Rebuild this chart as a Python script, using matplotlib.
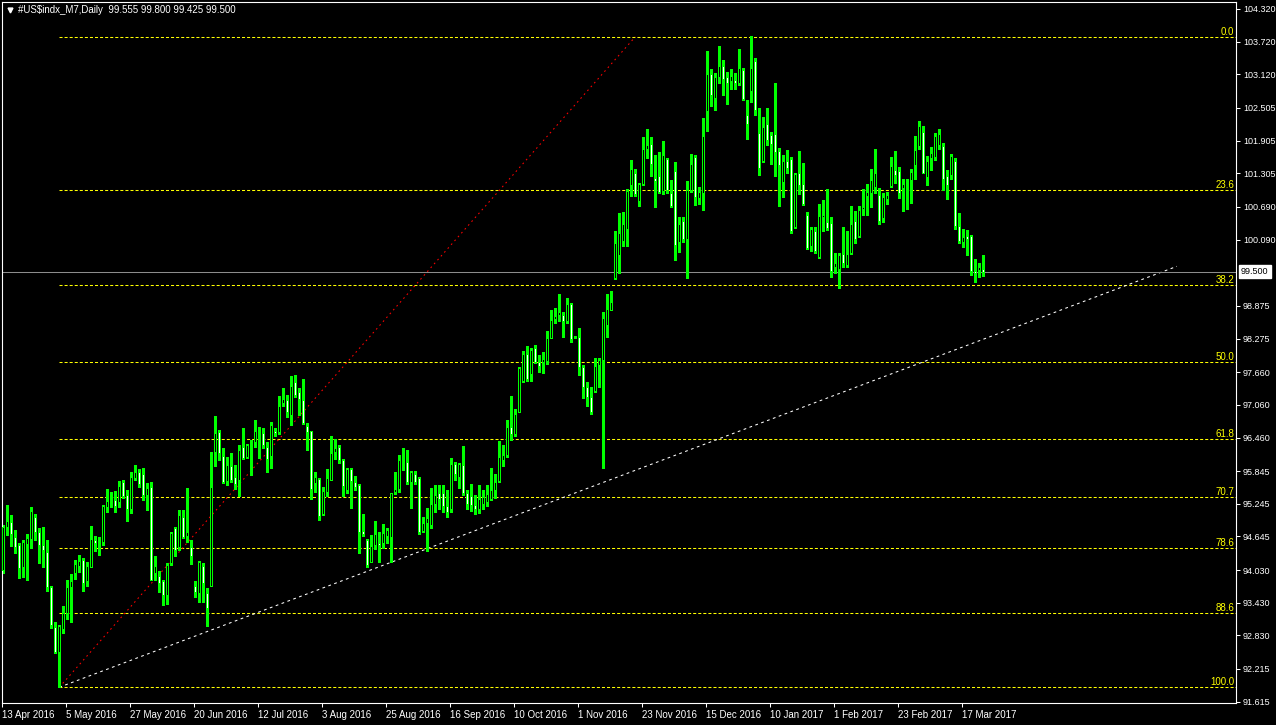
import numpy as np
import matplotlib.pyplot as plt
from matplotlib import transforms

plt.rcParams['font.family'] = ['Liberation Sans', 'DejaVu Sans']
plt.rcParams['lines.scale_dashes'] = False

# Daily candles of #US$indx_M7, 13 Apr 2016 onwards (one value per bar)
opens = [
    94.03, 94.81, 94.91, 94.64, 94.48, 94.09, 94.50, 94.59, 95.00, 94.72,
    94.48, 94.36, 93.71, 92.98, 92.52, 92.94, 93.24, 93.71, 93.97, 94.10,
    94.21, 93.82, 94.09, 94.58, 94.52, 94.54, 95.18, 95.30, 95.32, 95.28,
    95.65, 95.41, 95.14, 95.72, 95.82, 95.79, 95.41, 95.55, 93.98, 93.92,
    93.83, 93.57, 94.15, 94.80, 94.46, 95.00, 94.66, 94.46, 93.74, 93.60,
    94.10, 93.60, 93.74, 96.20, 96.57, 96.12, 95.67, 95.94, 95.73, 95.68,
    96.29, 96.11, 96.30, 96.37, 96.57, 96.54, 96.28, 96.13, 96.58, 96.57,
    97.09, 97.15, 96.87, 97.47, 97.29, 97.15, 96.67, 96.58, 95.62, 95.70,
    95.06, 95.47, 95.69, 96.20, 96.28, 96.05, 95.49, 95.88, 95.65, 95.59,
    94.75, 94.58, 94.17, 94.49, 94.53, 94.52, 94.66, 94.64, 95.47, 95.51,
    95.98, 96.01, 95.65, 95.80, 95.71, 94.75, 94.89, 94.86, 95.24, 95.45,
    95.44, 95.20, 95.15, 95.98, 95.74, 95.96, 95.45, 95.39, 95.22, 95.15,
    95.25, 95.28, 95.33, 95.49, 95.67, 96.05, 96.14, 96.65, 96.52, 96.92,
    97.49, 98.00, 97.62, 98.10, 97.85, 97.85, 97.87, 98.29, 98.63, 98.70,
    98.70, 98.59, 98.91, 98.30, 98.31, 97.76, 97.39, 97.20, 97.32, 97.79,
    97.89, 98.52, 98.79, 99.39, 99.80, 100.07, 100.28, 101.10, 101.32, 100.80,
    101.11, 101.75, 101.84, 101.22, 101.26, 100.99, 101.56, 100.94, 101.34, 100.05,
    100.43, 100.10, 101.00, 101.60, 100.85, 100.94, 102.44, 103.13, 102.69, 103.08,
    103.28, 103.07, 102.99, 103.02, 102.96, 103.20, 102.38, 102.82, 103.37, 102.04,
    101.54, 102.21, 102.01, 102.02, 101.72, 101.15, 101.53, 101.57, 100.33, 101.31,
    101.11, 100.54, 99.97, 100.25, 99.78, 100.51, 100.41, 100.39, 99.58, 99.55,
    99.83, 99.63, 99.84, 100.43, 100.15, 100.66, 100.89, 100.95, 101.06, 100.91,
    100.48, 100.83, 101.07, 101.37, 101.35, 101.04, 101.15, 101.18, 101.46, 101.80,
    102.06, 101.24, 101.59, 101.61, 101.83, 101.81, 101.26, 101.28, 101.53, 100.34,
    100.05, 100.16, 100.16, 99.51, 99.53, 99.555]

highs = [
    94.86, 95.22, 95.04, 94.76, 94.52, 94.58, 94.69, 95.19, 95.06, 94.80,
    94.81, 94.58, 93.73, 93.07, 93.02, 93.37, 93.85, 93.96, 94.21, 94.31,
    94.25, 94.17, 94.84, 94.65, 94.64, 95.22, 95.51, 95.47, 95.48, 95.66,
    95.68, 95.50, 95.82, 95.96, 95.88, 95.90, 95.62, 95.65, 94.28, 94.02,
    93.85, 94.15, 94.73, 94.81, 95.13, 95.13, 95.53, 94.58, 93.82, 94.20,
    94.15, 93.70, 96.20, 96.86, 96.60, 96.26, 96.11, 96.17, 95.96, 96.32,
    96.63, 96.35, 96.42, 96.79, 96.66, 96.63, 96.38, 96.75, 96.63, 97.22,
    97.36, 97.24, 97.59, 97.61, 97.36, 97.53, 96.73, 96.58, 95.82, 95.71,
    95.56, 95.88, 96.49, 96.43, 96.32, 96.06, 95.91, 95.91, 95.76, 95.61,
    95.06, 94.59, 94.67, 94.93, 94.73, 94.87, 94.80, 95.45, 95.82, 96.14,
    96.26, 96.24, 95.84, 95.84, 95.74, 95.01, 95.16, 95.53, 95.59, 95.59,
    95.59, 95.50, 96.08, 96.02, 96.00, 96.31, 95.50, 95.61, 95.40, 95.59,
    95.50, 95.59, 95.90, 95.80, 96.40, 96.32, 96.79, 97.22, 96.98, 97.76,
    98.05, 98.14, 98.10, 98.16, 97.97, 98.02, 98.42, 98.80, 98.83, 99.09,
    98.77, 99.01, 98.93, 98.33, 98.46, 97.79, 97.48, 97.39, 97.91, 97.91,
    98.77, 99.10, 99.15, 100.24, 100.57, 100.60, 101.01, 101.55, 101.38, 101.13,
    101.98, 102.12, 101.98, 101.64, 101.70, 101.90, 101.58, 101.18, 101.51, 100.50,
    100.51, 101.17, 101.66, 101.64, 101.06, 102.32, 103.55, 103.21, 103.14, 103.64,
    103.39, 103.17, 103.21, 103.15, 103.59, 103.23, 102.65, 103.83, 103.42, 102.50,
    102.33, 102.50, 102.07, 102.96, 101.77, 101.64, 101.73, 101.61, 101.32, 101.72,
    101.49, 100.60, 100.33, 100.33, 100.74, 100.82, 101.01, 100.50, 99.84, 99.84,
    100.33, 100.24, 100.71, 100.62, 100.70, 101.01, 101.11, 101.38, 101.75, 101.03,
    100.94, 100.97, 101.61, 101.72, 101.43, 101.21, 101.20, 101.38, 101.99, 102.27,
    102.17, 101.62, 101.78, 102.04, 102.12, 101.86, 101.37, 101.66, 101.58, 100.57,
    100.28, 100.27, 100.17, 99.73, 99.66, 99.80]

lows = [
    93.98, 94.67, 94.47, 94.35, 93.88, 93.91, 93.84, 94.43, 94.58, 94.15,
    94.09, 93.65, 92.96, 92.50, 91.88, 92.87, 93.14, 93.08, 93.86, 94.00,
    93.65, 93.73, 94.09, 94.37, 94.31, 94.49, 95.10, 95.19, 95.10, 95.19,
    95.35, 94.92, 95.07, 95.69, 95.56, 95.32, 95.13, 93.85, 93.85, 93.63,
    93.38, 93.41, 94.12, 94.28, 94.40, 94.61, 94.55, 94.14, 93.54, 93.45,
    93.45, 93.01, 93.73, 95.93, 96.05, 95.62, 95.59, 95.65, 95.51, 95.38,
    96.06, 96.08, 95.77, 96.28, 96.08, 96.26, 95.82, 95.91, 96.48, 96.52,
    97.03, 96.83, 96.69, 97.21, 96.87, 96.71, 96.24, 95.33, 95.47, 94.94,
    95.04, 95.38, 95.68, 96.07, 96.00, 95.38, 95.44, 95.17, 95.49, 94.35,
    94.65, 94.09, 94.17, 94.41, 94.18, 94.43, 94.53, 94.17, 95.43, 95.47,
    95.87, 95.61, 95.17, 95.60, 94.69, 94.72, 94.37, 94.80, 95.10, 95.15,
    95.10, 95.00, 95.10, 95.68, 95.53, 95.41, 95.15, 95.12, 95.05, 95.08,
    95.15, 95.20, 95.31, 95.36, 95.65, 95.93, 96.11, 96.42, 96.48, 96.92,
    97.47, 97.50, 97.50, 97.83, 97.67, 97.65, 97.81, 98.28, 98.56, 98.59,
    98.31, 98.56, 98.22, 98.29, 97.61, 97.18, 97.03, 96.90, 97.30, 97.38,
    95.90, 98.31, 98.79, 99.37, 99.47, 99.97, 99.97, 100.89, 100.89, 100.71,
    101.10, 101.58, 101.25, 100.68, 100.94, 100.92, 100.94, 100.68, 99.72, 99.87,
    100.04, 99.39, 100.97, 100.73, 100.74, 100.63, 102.08, 102.54, 102.47, 102.97,
    102.74, 102.58, 102.85, 102.85, 102.93, 102.65, 101.94, 102.62, 102.38, 101.28,
    101.52, 101.83, 101.48, 101.25, 100.70, 100.88, 101.31, 100.22, 100.31, 100.93,
    100.73, 99.91, 99.89, 99.85, 99.75, 100.24, 100.27, 99.40, 99.47, 99.20,
    99.59, 99.58, 99.83, 100.02, 100.13, 100.54, 100.54, 100.69, 100.94, 100.38,
    100.42, 100.74, 101.06, 101.13, 100.85, 100.62, 100.66, 100.77, 101.21, 101.76,
    101.31, 101.09, 101.37, 101.55, 101.76, 101.00, 100.84, 101.20, 100.28, 100.02,
    99.96, 99.81, 99.44, 99.32, 99.41, 99.425]

closes = [
    94.81, 94.93, 94.69, 94.45, 94.06, 94.54, 94.61, 95.11, 94.73, 94.48,
    94.39, 93.71, 93.03, 92.52, 93.01, 93.25, 93.71, 93.82, 94.14, 94.20,
    93.79, 94.10, 94.59, 94.52, 94.54, 95.20, 95.30, 95.28, 95.21, 95.57,
    95.38, 95.14, 95.74, 95.82, 95.60, 95.41, 95.54, 93.85, 94.10, 93.79,
    93.58, 94.12, 94.70, 94.40, 95.03, 94.64, 94.72, 94.28, 93.63, 94.17,
    93.80, 93.34, 95.55, 96.55, 96.17, 95.65, 95.95, 95.69, 95.60, 96.24,
    96.09, 96.32, 96.29, 96.58, 96.54, 96.32, 96.07, 96.69, 96.54, 97.04,
    97.16, 96.92, 97.41, 97.24, 97.16, 96.73, 96.57, 95.51, 95.73, 95.02,
    95.48, 95.71, 96.17, 96.26, 96.04, 95.58, 95.88, 95.67, 95.55, 94.73,
    94.69, 94.12, 94.47, 94.69, 94.49, 94.70, 94.76, 95.44, 95.52, 96.05,
    95.97, 95.65, 95.82, 95.65, 94.73, 94.89, 94.98, 95.24, 95.40, 95.33,
    95.20, 95.10, 95.98, 95.79, 95.98, 95.44, 95.25, 95.22, 95.15, 95.34,
    95.37, 95.42, 95.49, 95.65, 96.10, 96.14, 96.65, 96.52, 96.90, 97.73,
    97.99, 97.53, 98.07, 97.85, 97.78, 97.90, 98.28, 98.62, 98.68, 98.76,
    98.59, 98.90, 98.27, 98.31, 97.76, 97.39, 97.20, 96.92, 97.78, 97.89,
    98.65, 98.81, 98.95, 100.02, 100.22, 100.37, 100.99, 101.38, 100.92, 101.11,
    101.75, 101.83, 101.47, 101.17, 100.97, 101.64, 101.00, 100.71, 100.00, 100.37,
    100.10, 101.00, 101.48, 100.87, 100.96, 101.99, 103.12, 102.74, 103.07, 103.28,
    103.03, 102.97, 103.09, 102.96, 103.23, 102.66, 102.21, 103.23, 102.46, 101.40,
    102.15, 101.91, 101.84, 101.70, 101.45, 101.53, 101.40, 100.24, 101.29, 101.10,
    100.74, 99.93, 100.28, 99.89, 100.53, 100.54, 100.30, 99.52, 99.67, 99.81,
    99.67, 99.83, 100.37, 100.11, 100.63, 100.68, 100.96, 101.18, 101.32, 100.44,
    100.87, 100.91, 101.44, 101.28, 100.95, 101.11, 101.15, 101.33, 101.73, 102.17,
    101.32, 101.53, 101.67, 101.99, 102.03, 101.20, 101.09, 101.62, 100.34, 100.07,
    100.13, 100.11, 99.52, 99.47, 99.59, 99.50]

# x axis labels, one every 16 bars starting at bar 1
date_labels = ["13 Apr 2016", "5 May 2016", "27 May 2016", "20 Jun 2016",
               "12 Jul 2016", "3 Aug 2016", "25 Aug 2016", "16 Sep 2016",
               "10 Oct 2016", "1 Nov 2016", "23 Nov 2016", "15 Dec 2016",
               "10 Jan 2017", "1 Feb 2017", "23 Feb 2017", "17 Mar 2017"]
date_bars = [1 + 16 * k for k in range(len(date_labels))]

price_ticks = [104.320, 103.720, 103.120, 102.505, 101.905, 101.305, 100.690,
               100.090, 98.875, 98.275, 97.660, 97.060, 96.460, 95.845,
               95.245, 94.645, 94.030, 93.430, 92.830, 92.215, 91.615]

# Fibonacci retracement drawn from the May low to the December high
fib_levels = [0.0, 23.6, 38.2, 50.0, 61.8, 70.7, 78.6, 88.6, 100.0]
fib_low = 91.88
fib_high = 103.81
fib_bars = [15, 159]

# support trend line
trend_bars = [15, 294.4]
trend_prices = [91.88, 99.60]

last_price = 99.50
title = "#US$indx_M7,Daily  99.555 99.800 99.425 99.500"

o = np.array(opens)
h = np.array(highs)
l = np.array(lows)
c = np.array(closes)
bars = np.arange(1, len(c) + 1)

fig = plt.figure(figsize=(12.76, 7.25), dpi=100, facecolor='black')
ax = fig.add_axes([2 / 1276, 22 / 725, 1234 / 1276, 701 / 725], facecolor='black')
xmax = 309.175
ax.set_xlim(0.675, xmax)
ax.set_ylim(91.591, 104.448)

fs = 7
fs_price = 6.5

# fib levels
fib_prices = [fib_high - (fib_high - fib_low) * lv / 100 for lv in fib_levels]
ax.hlines(fib_prices, fib_bars[0], xmax, colors='#ffff00', linestyles=(0, (2.2, 1.45)),
          linewidth=0.75, zorder=1)
blend = transforms.blended_transform_factory(ax.transAxes, ax.transData)
lab_tr = transforms.offset_copy(blend, fig=fig, x=-2, y=2, units='dots')
for lv, p in zip(fib_levels, fib_prices):
    ax.text(1.0, p, f"{lv:.1f}", transform=lab_tr, color='#ffff00', fontsize=fs,
            ha='right', va='baseline')

ax.plot(fib_bars, [fib_low, fib_high], color='red', linestyle=(0, (1.2, 2.5)), linewidth=0.75, zorder=1)
ax.plot(trend_bars, trend_prices, color='white', linestyle=(0, (2, 2.5)), linewidth=0.75, zorder=1)
ax.axhline(last_price, color='#8c8c8c', linewidth=0.75, zorder=1)

# candles
ax.vlines(bars, l, h, colors='#00ff00', linewidth=0.75, antialiased=False, zorder=2)
bull = c >= o
body_low = np.minimum(o, c)
body_h = np.maximum(np.abs(c - o), 0.005)
ax.bar(bars[bull], body_h[bull], bottom=body_low[bull], width=0.5, facecolor='black',
       edgecolor='#00ff00', linewidth=0.65, antialiased=False, zorder=3)
ax.bar(bars[~bull], body_h[~bull], bottom=body_low[~bull], width=0.5, facecolor='white',
       edgecolor='#00ff00', linewidth=0.65, antialiased=False, zorder=3)

# axes styling
for s in ax.spines.values():
    s.set_color('white')
    s.set_linewidth(0.8)
ax.yaxis.tick_right()
ax.set_yticks(price_ticks)
ax.set_yticklabels([f"{v:.3f}" for v in price_ticks])
ax.tick_params(axis='y', colors='white', length=3, width=0.75, labelsize=fs_price, pad=2)
ax.set_xticks(np.array(date_bars) - 0.3)
ax.set_xticklabels(date_labels, ha='left')
ax.tick_params(axis='x', colors='white', length=3, width=0.75, labelsize=fs, pad=2)

# current price box
ax.text(1.0, last_price, "99.500", transform=transforms.offset_copy(blend, fig=fig, x=5, y=0, units='dots'),
        color='black', fontsize=fs_price, ha='left', va='center', zorder=5, clip_on=False,
        bbox=dict(facecolor='white', edgecolor='white', pad=1.5))

# header
ax.plot([8 / 1234], [1 - 8 / 701], marker='v', color='white', markersize=3.5,
        transform=ax.transAxes, clip_on=False)
ax.text(16 / 1234, 1 - 8 / 701, title, transform=ax.transAxes, color='white',
        fontsize=fs, ha='left', va='center', parse_math=False)

fig.savefig('out.png', dpi=100, facecolor='black')
